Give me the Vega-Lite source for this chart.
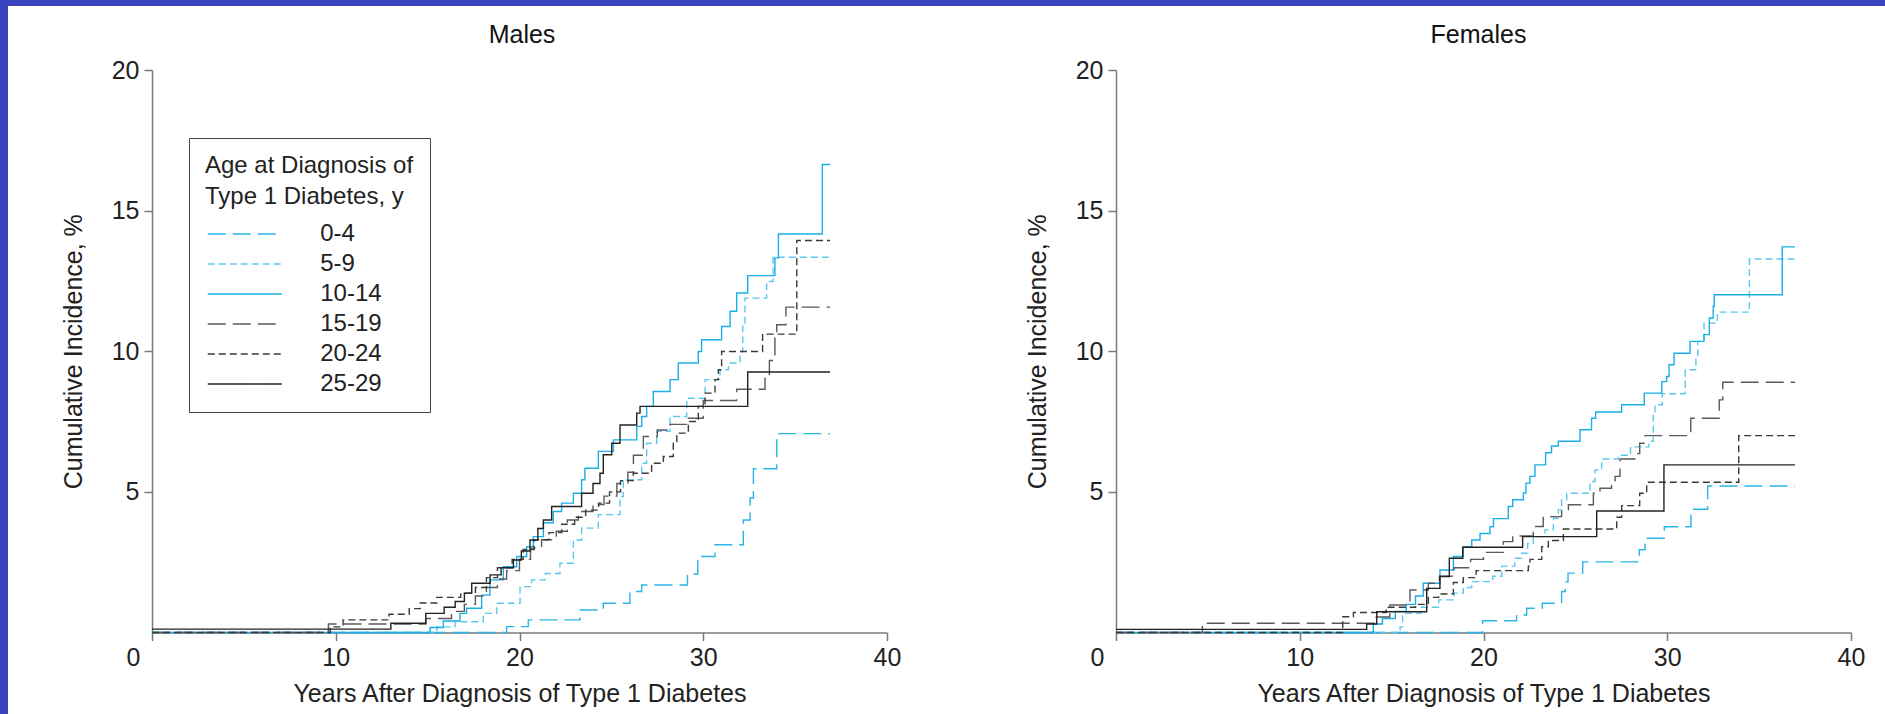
{
  "$schema": "https://vega.github.io/schema/vega-lite/v6.json",
  "background": "#3a44c0",
  "padding": {"left": 8, "top": 6, "right": 0, "bottom": 0},
  "spacing": 0,
  "bounds": "flush",
  "datasets": {
    "males": [
      {"age":"0-4","t":0,"ci":0},{"age":"0-4","t":19.3,"ci":0.21},{"age":"0-4","t":20.48,"ci":0.45},{"age":"0-4","t":23.29,"ci":0.8},{"age":"0-4","t":24.56,"ci":1.04},{"age":"0-4","t":26.01,"ci":1.46},{"age":"0-4","t":26.65,"ci":1.69},{"age":"0-4","t":29.14,"ci":2.08},{"age":"0-4","t":29.7,"ci":2.7},{"age":"0-4","t":30.64,"ci":3.12},{"age":"0-4","t":32.18,"ci":4.0},{"age":"0-4","t":32.55,"ci":4.78},{"age":"0-4","t":32.73,"ci":5.82},{"age":"0-4","t":34.0,"ci":7.07},{"age":"0-4","t":36.9,"ci":7.07},
      {"age":"5-9","t":0,"ci":0},{"age":"5-9","t":15.5,"ci":0.2},{"age":"5-9","t":16.49,"ci":0.38},{"age":"5-9","t":18.03,"ci":0.68},{"age":"5-9","t":18.76,"ci":1.04},{"age":"5-9","t":20.03,"ci":1.63},{"age":"5-9","t":20.66,"ci":1.87},{"age":"5-9","t":21.4,"ci":2.1},{"age":"5-9","t":22.2,"ci":2.46},{"age":"5-9","t":22.93,"ci":3.29},{"age":"5-9","t":23.38,"ci":3.71},{"age":"5-9","t":24.29,"ci":4.19},{"age":"5-9","t":25.47,"ci":4.83},{"age":"5-9","t":25.65,"ci":5.43},{"age":"5-9","t":26.65,"ci":6.02},{"age":"5-9","t":26.92,"ci":6.73},{"age":"5-9","t":27.47,"ci":7.15},{"age":"5-9","t":28.19,"ci":7.68},{"age":"5-9","t":29.1,"ci":8.33},{"age":"5-9","t":30.1,"ci":8.99},{"age":"5-9","t":30.91,"ci":9.34},{"age":"5-9","t":31.37,"ci":9.58},{"age":"5-9","t":32.0,"ci":9.99},{"age":"5-9","t":32.15,"ci":11.0},{"age":"5-9","t":32.27,"ci":11.89},{"age":"5-9","t":33.45,"ci":12.48},{"age":"5-9","t":33.8,"ci":13.34},{"age":"5-9","t":36.9,"ci":13.34},
      {"age":"10-14","t":0,"ci":0},{"age":"10-14","t":15.13,"ci":0.18},{"age":"10-14","t":15.85,"ci":0.41},{"age":"10-14","t":16.76,"ci":0.68},{"age":"10-14","t":17.12,"ci":0.86},{"age":"10-14","t":17.94,"ci":1.33},{"age":"10-14","t":18.39,"ci":1.87},{"age":"10-14","t":19.12,"ci":2.34},{"age":"10-14","t":19.85,"ci":2.7},{"age":"10-14","t":20.39,"ci":3.05},{"age":"10-14","t":20.75,"ci":3.41},{"age":"10-14","t":21.3,"ci":3.9},{"age":"10-14","t":21.84,"ci":4.3},{"age":"10-14","t":22.29,"ci":4.6},{"age":"10-14","t":22.93,"ci":4.95},{"age":"10-14","t":23.38,"ci":5.43},{"age":"10-14","t":23.56,"ci":5.84},{"age":"10-14","t":24.29,"ci":6.44},{"age":"10-14","t":25.11,"ci":6.85},{"age":"10-14","t":26.38,"ci":7.33},{"age":"10-14","t":26.65,"ci":7.68},{"age":"10-14","t":26.92,"ci":8.04},{"age":"10-14","t":27.28,"ci":8.57},{"age":"10-14","t":28.19,"ci":8.99},{"age":"10-14","t":28.64,"ci":9.58},{"age":"10-14","t":29.73,"ci":9.99},{"age":"10-14","t":29.91,"ci":10.41},{"age":"10-14","t":31.0,"ci":10.88},{"age":"10-14","t":31.46,"ci":11.42},{"age":"10-14","t":31.82,"ci":12.07},{"age":"10-14","t":32.42,"ci":12.69},{"age":"10-14","t":33.9,"ci":13.32},{"age":"10-14","t":34.09,"ci":14.17},{"age":"10-14","t":36.48,"ci":16.64},{"age":"10-14","t":36.9,"ci":16.64},
      {"age":"15-19","t":0,"ci":0},{"age":"15-19","t":9.6,"ci":0.3},{"age":"15-19","t":14.9,"ci":0.5},{"age":"15-19","t":16.3,"ci":0.75},{"age":"15-19","t":17.0,"ci":1.0},{"age":"15-19","t":17.6,"ci":1.3},{"age":"15-19","t":18.2,"ci":1.6},{"age":"15-19","t":18.8,"ci":1.9},{"age":"15-19","t":19.3,"ci":2.2},{"age":"15-19","t":20.0,"ci":2.6},{"age":"15-19","t":20.6,"ci":3.0},{"age":"15-19","t":21.2,"ci":3.3},{"age":"15-19","t":22.0,"ci":3.6},{"age":"15-19","t":22.6,"ci":4.0},{"age":"15-19","t":23.2,"ci":4.3},{"age":"15-19","t":24.0,"ci":4.55},{"age":"15-19","t":24.6,"ci":4.85},{"age":"15-19","t":25.3,"ci":5.3},{"age":"15-19","t":25.9,"ci":5.7},{"age":"15-19","t":26.2,"ci":6.3},{"age":"15-19","t":26.74,"ci":6.97},{"age":"15-19","t":27.5,"ci":7.2},{"age":"15-19","t":28.2,"ci":7.4},{"age":"15-19","t":29.1,"ci":7.62},{"age":"15-19","t":30.0,"ci":8.25},{"age":"15-19","t":31.82,"ci":8.65},{"age":"15-19","t":33.36,"ci":9.1},{"age":"15-19","t":33.6,"ci":9.67},{"age":"15-19","t":33.9,"ci":10.61},{"age":"15-19","t":34.0,"ci":10.94},{"age":"15-19","t":34.5,"ci":11.57},{"age":"15-19","t":36.9,"ci":11.57},
      {"age":"20-24","t":0,"ci":0},{"age":"20-24","t":9.7,"ci":0.2},{"age":"20-24","t":10.4,"ci":0.45},{"age":"20-24","t":12.9,"ci":0.65},{"age":"20-24","t":14.0,"ci":0.85},{"age":"20-24","t":14.6,"ci":1.05},{"age":"20-24","t":15.5,"ci":1.25},{"age":"20-24","t":16.8,"ci":1.4},{"age":"20-24","t":17.6,"ci":1.6},{"age":"20-24","t":18.2,"ci":1.95},{"age":"20-24","t":18.8,"ci":2.3},{"age":"20-24","t":19.6,"ci":2.6},{"age":"20-24","t":20.2,"ci":2.95},{"age":"20-24","t":20.8,"ci":3.3},{"age":"20-24","t":21.6,"ci":3.55},{"age":"20-24","t":22.3,"ci":3.85},{"age":"20-24","t":23.0,"ci":4.1},{"age":"20-24","t":23.6,"ci":4.35},{"age":"20-24","t":24.3,"ci":4.6},{"age":"20-24","t":24.9,"ci":5.0},{"age":"20-24","t":25.5,"ci":5.4},{"age":"20-24","t":26.19,"ci":5.66},{"age":"20-24","t":27.19,"ci":6.02},{"age":"20-24","t":27.83,"ci":6.26},{"age":"20-24","t":28.37,"ci":6.73},{"age":"20-24","t":28.56,"ci":7.09},{"age":"20-24","t":29.19,"ci":7.5},{"age":"20-24","t":29.73,"ci":8.04},{"age":"20-24","t":30.1,"ci":8.51},{"age":"20-24","t":30.64,"ci":8.99},{"age":"20-24","t":30.82,"ci":9.34},{"age":"20-24","t":31.0,"ci":9.99},{"age":"20-24","t":33.23,"ci":10.61},{"age":"20-24","t":35.09,"ci":13.94},{"age":"20-24","t":36.9,"ci":13.94},
      {"age":"25-29","t":0,"ci":0.12},{"age":"25-29","t":13.0,"ci":0.33},{"age":"25-29","t":14.9,"ci":0.68},{"age":"25-29","t":15.9,"ci":0.9},{"age":"25-29","t":16.5,"ci":1.1},{"age":"25-29","t":17.0,"ci":1.4},{"age":"25-29","t":17.4,"ci":1.75},{"age":"25-29","t":18.4,"ci":2.05},{"age":"25-29","t":19.0,"ci":2.3},{"age":"25-29","t":19.67,"ci":2.58},{"age":"25-29","t":20.1,"ci":2.9},{"age":"25-29","t":20.57,"ci":3.29},{"age":"25-29","t":21.0,"ci":3.7},{"age":"25-29","t":21.3,"ci":4.0},{"age":"25-29","t":21.75,"ci":4.48},{"age":"25-29","t":23.38,"ci":4.95},{"age":"25-29","t":24.0,"ci":5.3},{"age":"25-29","t":24.38,"ci":5.66},{"age":"25-29","t":24.56,"ci":6.32},{"age":"25-29","t":25.02,"ci":6.73},{"age":"25-29","t":25.47,"ci":7.38},{"age":"25-29","t":26.38,"ci":7.8},{"age":"25-29","t":26.56,"ci":8.04},{"age":"25-29","t":32.42,"ci":9.26},{"age":"25-29","t":36.9,"ci":9.26}
    ],
    "females": [
      {"age":"0-4","t":0,"ci":0},{"age":"0-4","t":19.95,"ci":0.42},{"age":"0-4","t":21.8,"ci":0.62},{"age":"0-4","t":22.35,"ci":0.86},{"age":"0-4","t":23.2,"ci":1.04},{"age":"0-4","t":24.25,"ci":1.46},{"age":"0-4","t":24.45,"ci":1.8},{"age":"0-4","t":24.6,"ci":2.11},{"age":"0-4","t":25.4,"ci":2.51},{"age":"0-4","t":28.48,"ci":2.94},{"age":"0-4","t":28.79,"ci":3.35},{"age":"0-4","t":29.84,"ci":3.76},{"age":"0-4","t":31.29,"ci":4.38},{"age":"0-4","t":32.2,"ci":5.21},{"age":"0-4","t":36.95,"ci":5.21},
      {"age":"5-9","t":0,"ci":0},{"age":"5-9","t":15.46,"ci":0.2},{"age":"5-9","t":15.6,"ci":0.68},{"age":"5-9","t":16.6,"ci":0.9},{"age":"5-9","t":17.56,"ci":1.16},{"age":"5-9","t":18.4,"ci":1.4},{"age":"5-9","t":18.9,"ci":1.6},{"age":"5-9","t":19.36,"ci":1.81},{"age":"5-9","t":20.5,"ci":2.0},{"age":"5-9","t":21.0,"ci":2.36},{"age":"5-9","t":21.7,"ci":2.64},{"age":"5-9","t":22.08,"ci":2.82},{"age":"5-9","t":22.4,"ci":3.17},{"age":"5-9","t":22.71,"ci":3.41},{"age":"5-9","t":23.35,"ci":3.65},{"age":"5-9","t":23.8,"ci":4.06},{"age":"5-9","t":24.07,"ci":4.36},{"age":"5-9","t":24.25,"ci":4.72},{"age":"5-9","t":24.53,"ci":4.95},{"age":"5-9","t":25.8,"ci":5.37},{"age":"5-9","t":26.07,"ci":5.78},{"age":"5-9","t":26.43,"ci":6.17},{"age":"5-9","t":27.33,"ci":6.3},{"age":"5-9","t":28.0,"ci":6.6},{"age":"5-9","t":29.0,"ci":6.8},{"age":"5-9","t":29.24,"ci":7.8},{"age":"5-9","t":29.33,"ci":8.1},{"age":"5-9","t":29.73,"ci":8.49},{"age":"5-9","t":30.98,"ci":9.34},{"age":"5-9","t":31.56,"ci":9.77},{"age":"5-9","t":31.66,"ci":10.35},{"age":"5-9","t":32.0,"ci":11.0},{"age":"5-9","t":32.73,"ci":11.39},{"age":"5-9","t":34.47,"ci":13.28},{"age":"5-9","t":36.95,"ci":13.28},
      {"age":"10-14","t":0,"ci":0},{"age":"10-14","t":14.0,"ci":0.3},{"age":"10-14","t":14.5,"ci":0.5},{"age":"10-14","t":15.2,"ci":0.75},{"age":"10-14","t":15.8,"ci":1.0},{"age":"10-14","t":16.3,"ci":1.3},{"age":"10-14","t":16.72,"ci":1.75},{"age":"10-14","t":17.63,"ci":2.22},{"age":"10-14","t":18.36,"ci":2.7},{"age":"10-14","t":18.9,"ci":3.05},{"age":"10-14","t":19.36,"ci":3.29},{"age":"10-14","t":19.81,"ci":3.52},{"age":"10-14","t":20.35,"ci":3.76},{"age":"10-14","t":20.54,"ci":4.05},{"age":"10-14","t":21.35,"ci":4.48},{"age":"10-14","t":21.59,"ci":4.72},{"age":"10-14","t":22.17,"ci":4.96},{"age":"10-14","t":22.31,"ci":5.31},{"age":"10-14","t":22.53,"ci":5.55},{"age":"10-14","t":22.8,"ci":5.96},{"age":"10-14","t":23.38,"ci":6.39},{"age":"10-14","t":23.7,"ci":6.63},{"age":"10-14","t":24.07,"ci":6.8},{"age":"10-14","t":25.25,"ci":7.21},{"age":"10-14","t":25.88,"ci":7.62},{"age":"10-14","t":26.1,"ci":7.84},{"age":"10-14","t":27.52,"ci":8.1},{"age":"10-14","t":28.75,"ci":8.51},{"age":"10-14","t":29.7,"ci":8.92},{"age":"10-14","t":29.97,"ci":9.1},{"age":"10-14","t":30.1,"ci":9.52},{"age":"10-14","t":30.37,"ci":9.93},{"age":"10-14","t":31.24,"ci":10.35},{"age":"10-14","t":32.0,"ci":10.59},{"age":"10-14","t":32.29,"ci":11.18},{"age":"10-14","t":32.5,"ci":11.6},{"age":"10-14","t":32.56,"ci":12.01},{"age":"10-14","t":36.26,"ci":13.71},{"age":"10-14","t":36.95,"ci":13.71},
      {"age":"15-19","t":0,"ci":0},{"age":"15-19","t":4.7,"ci":0.33},{"age":"15-19","t":14.1,"ci":0.55},{"age":"15-19","t":14.9,"ci":0.98},{"age":"15-19","t":16.0,"ci":1.51},{"age":"15-19","t":17.0,"ci":1.75},{"age":"15-19","t":17.6,"ci":2.0},{"age":"15-19","t":18.4,"ci":2.3},{"age":"15-19","t":19.3,"ci":2.6},{"age":"15-19","t":20.0,"ci":2.85},{"age":"15-19","t":21.08,"ci":3.23},{"age":"15-19","t":21.59,"ci":3.43},{"age":"15-19","t":22.71,"ci":3.77},{"age":"15-19","t":23.25,"ci":4.12},{"age":"15-19","t":24.25,"ci":4.36},{"age":"15-19","t":24.62,"ci":4.54},{"age":"15-19","t":25.98,"ci":4.95},{"age":"15-19","t":26.34,"ci":5.13},{"age":"15-19","t":26.97,"ci":5.31},{"age":"15-19","t":27.16,"ci":5.55},{"age":"15-19","t":27.43,"ci":6.17},{"age":"15-19","t":28.3,"ci":6.36},{"age":"15-19","t":28.5,"ci":6.73},{"age":"15-19","t":28.79,"ci":7.0},{"age":"15-19","t":31.28,"ci":7.62},{"age":"15-19","t":32.83,"ci":8.27},{"age":"15-19","t":33.02,"ci":8.9},{"age":"15-19","t":36.95,"ci":8.9},
      {"age":"20-24","t":0,"ci":0},{"age":"20-24","t":12.34,"ci":0.56},{"age":"20-24","t":12.92,"ci":0.71},{"age":"20-24","t":14.7,"ci":0.9},{"age":"20-24","t":16.3,"ci":1.0},{"age":"20-24","t":17.0,"ci":1.25},{"age":"20-24","t":17.56,"ci":1.37},{"age":"20-24","t":18.36,"ci":1.78},{"age":"20-24","t":18.9,"ci":1.95},{"age":"20-24","t":19.6,"ci":2.2},{"age":"20-24","t":22.44,"ci":2.36},{"age":"20-24","t":22.53,"ci":2.6},{"age":"20-24","t":23.17,"ci":3.05},{"age":"20-24","t":23.53,"ci":3.27},{"age":"20-24","t":24.35,"ci":3.68},{"age":"20-24","t":27.25,"ci":4.1},{"age":"20-24","t":27.52,"ci":4.51},{"age":"20-24","t":28.5,"ci":4.95},{"age":"20-24","t":28.88,"ci":5.34},{"age":"20-24","t":33.89,"ci":7.0},{"age":"20-24","t":36.95,"ci":7.0},
      {"age":"25-29","t":0,"ci":0.11},{"age":"25-29","t":13.64,"ci":0.3},{"age":"25-29","t":14.19,"ci":0.74},{"age":"25-29","t":16.91,"ci":1.57},{"age":"25-29","t":17.63,"ci":1.99},{"age":"25-29","t":18.14,"ci":2.64},{"age":"25-29","t":18.87,"ci":3.03},{"age":"25-29","t":22.13,"ci":3.41},{"age":"25-29","t":26.16,"ci":4.32},{"age":"25-29","t":29.82,"ci":5.96},{"age":"25-29","t":36.95,"ci":5.96}
    ]
  },
  "hconcat": [
    {
      "width": 938,
      "height": 708,
      "title": {"text": "Males", "offset": -62, "baseline": "alphabetic", "dx": 45, "anchor": "middle", "frame": "group"},
      "data": {"name": "males"},
      "mark": {"type": "line", "interpolate": "step-after", "strokeWidth": 1.4},
      "encoding": {
        "x": {"field": "t", "type": "quantitative",
              "scale": {"domain": [0, 40], "range": [144, 879]},
              "axis": {"values": [0, 10, 20, 30, 40], "offset": -81.5, "title": "Years After Diagnosis of Type 1 Diabetes",
                       "labelFlush": false, "labelPadding": 5, "titlePadding": 11,
                       "labelOffset": {"condition": {"test": "datum.value === 0", "value": -19}, "value": 0}}},
        "y": {"field": "ci", "type": "quantitative",
              "scale": {"domain": [0, 20], "range": [626.5, 64]},
              "axis": {"values": [5, 10, 15, 20], "offset": -144, "title": "Cumulative Incidence, %", "labelPadding": 5, "titlePadding": 25}},
        "color": {"field": "age", "type": "nominal",
                  "scale": {"domain": ["0-4", "5-9", "10-14", "15-19", "20-24", "25-29"],
                            "range": ["#29b5e8", "#5cc8ef", "#1aafe6", "#5a5a5a", "#3a3a3a", "#222222"]},
                  "legend": {"orient": "none", "legendX": 181, "legendY": 132,
                             "title": ["Age at Diagnosis of", "Type 1 Diabetes, y"],
                             "titleFontSize": 24, "titleFontWeight": "normal", "titleLineHeight": 31, "titlePadding": 13, "titleColor": "#222", "titleLimit": 500,
                             "labelFontSize": 24, "labelOffset": 63.5, "labelColor": "#222", "labelLimit": 300,
                             "symbolType": "M-4,0L4,0", "symbolSize": 342.25, "symbolOffset": 27.75, "symbolStrokeWidth": 1.4,
                             "padding": 16, "strokeColor": "#444", "fillColor": "white", "rowPadding": 6}},
        "strokeDash": {"field": "age", "type": "nominal",
                  "scale": {"domain": ["0-4", "5-9", "10-14", "15-19", "20-24", "25-29"],
                            "range": [[18, 7], [7, 4], [1, 0], [18, 7], [7, 4], [1, 0]]},
                  "legend": {"orient": "none", "legendX": 181, "legendY": 132,
                             "title": ["Age at Diagnosis of", "Type 1 Diabetes, y"],
                             "titleFontSize": 24, "titleFontWeight": "normal", "titleLineHeight": 31, "titlePadding": 13, "titleColor": "#222", "titleLimit": 500,
                             "labelFontSize": 24, "labelOffset": 63.5, "labelColor": "#222", "labelLimit": 300,
                             "symbolType": "M-4,0L4,0", "symbolSize": 342.25, "symbolOffset": 27.75, "symbolStrokeWidth": 1.4,
                             "padding": 16, "strokeColor": "#444", "fillColor": "white", "rowPadding": 6}}
      }
    },
    {
      "width": 939,
      "height": 708,
      "title": {"text": "Females", "offset": -62, "baseline": "alphabetic", "dx": 63, "anchor": "middle", "frame": "group"},
      "data": {"name": "females"},
      "mark": {"type": "line", "interpolate": "step-after", "strokeWidth": 1.4},
      "encoding": {
        "x": {"field": "t", "type": "quantitative",
              "scale": {"domain": [0, 40], "range": [170, 905]},
              "axis": {"values": [0, 10, 20, 30, 40], "offset": -81.5, "title": "Years After Diagnosis of Type 1 Diabetes",
                       "labelFlush": false, "labelPadding": 5, "titlePadding": 11,
                       "labelOffset": {"condition": {"test": "datum.value === 0", "value": -19}, "value": 0}}},
        "y": {"field": "ci", "type": "quantitative",
              "scale": {"domain": [0, 20], "range": [626.5, 64]},
              "axis": {"values": [5, 10, 15, 20], "offset": -170, "title": "Cumulative Incidence, %", "labelPadding": 5, "titlePadding": 25}},
        "color": {"field": "age", "type": "nominal",
                  "scale": {"domain": ["0-4", "5-9", "10-14", "15-19", "20-24", "25-29"],
                            "range": ["#29b5e8", "#5cc8ef", "#1aafe6", "#5a5a5a", "#3a3a3a", "#222222"]},
                  "legend": null},
        "strokeDash": {"field": "age", "type": "nominal",
                  "scale": {"domain": ["0-4", "5-9", "10-14", "15-19", "20-24", "25-29"],
                            "range": [[18, 7], [7, 4], [1, 0], [18, 7], [7, 4], [1, 0]]},
                  "legend": null}
      }
    }
  ],
  "resolve": {"scale": {"x": "independent", "y": "independent"}, "legend": {"color": "independent", "strokeDash": "independent"}},
  "config": {
    "font": "Liberation Sans",
    "view": {"fill": "white", "stroke": null},
    "axis": {"labelFontSize": 25, "titleFontSize": 25, "labelColor": "#222", "titleColor": "#222", "titleFontWeight": "normal",
             "domainColor": "#7a7a7a", "tickColor": "#7a7a7a", "tickSize": 8, "grid": false, "domainWidth": 1.5, "tickWidth": 1.5},
    "title": {"fontSize": 25, "fontWeight": "normal", "color": "#111"}
  }
}
